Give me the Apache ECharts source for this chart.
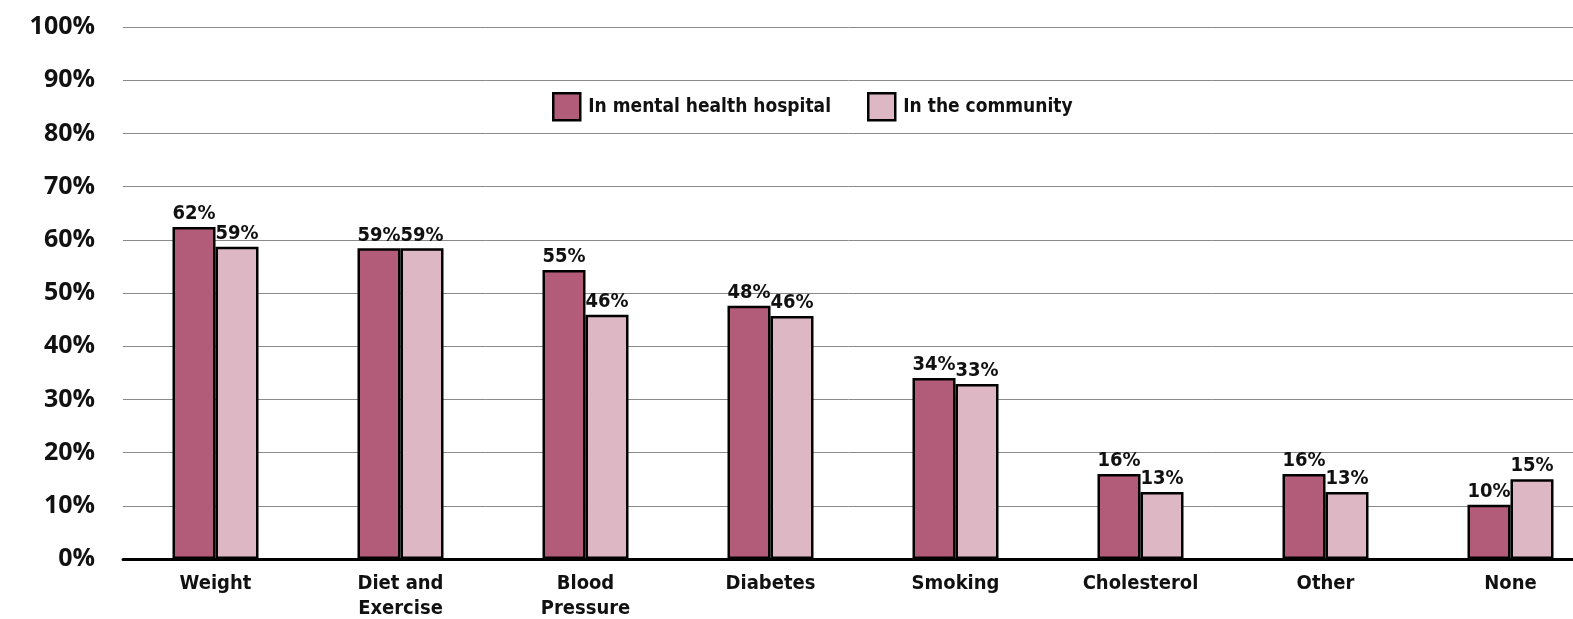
<!DOCTYPE html>
<html>
<head>
<meta charset="utf-8">
<script src="https://cdn.jsdelivr.net/npm/echarts@6/dist/echarts.min.js"></script>
<style>
html,body{margin:0;padding:0;background:#fff;}
#c{width:1573px;height:619px;}
</style>
</head>
<body>
<div id="c"></div>
<script>
var categories = ['Weight', 'Diet and\nExercise', 'Blood\nPressure', 'Diabetes', 'Smoking', 'Cholesterol', 'Other', 'None'];
var hospitalValues = [62.4, 58.4, 54.3, 47.6, 34.0, 16.0, 16.0, 10.2];
var communityValues = [58.7, 58.4, 45.9, 45.7, 32.9, 12.6, 12.6, 15.0];
var hospitalLabels = ['62%', '59%', '55%', '48%', '34%', '16%', '16%', '10%'];
var communityLabels = ['59%', '59%', '46%', '46%', '33%', '13%', '13%', '15%'];
var seriesNames = ['In mental health hospital', 'In the community'];

var condensed = "'Liberation Sans Narrow', 'DejaVu Sans Condensed', 'Roboto Condensed', sans-serif";
var chart = echarts.init(document.getElementById('c'));
function mkSeries(name, vals, labels, color) {
  return {
    name: name,
    type: 'bar',
    data: vals,
    barWidth: 43,
    barGap: '0%',
    itemStyle: {color: color, borderColor: '#000', borderWidth: 2.5},
    label: {
      show: true, position: 'top', distance: 3,
      formatter: function (p) { return labels[p.dataIndex]; },
      color: '#111', fontFamily: condensed, fontWeight: 'bold', fontSize: 20
    }
  };
}
chart.setOption({
  animation: false,
  backgroundColor: '#fff',
  grid: {left: 123, width: 1480, top: 27, bottom: 60, containLabel: false, outerBoundsMode: 'none'},
  legend: {
    data: seriesNames,
    left: 547, top: 87,
    icon: 'rect',
    itemWidth: 27, itemHeight: 27, itemGap: 36,
    textStyle: {fontFamily: condensed, fontWeight: 'bold', fontSize: 19, color: '#111', padding: [0, 0, 0, 3]},
    itemStyle: {borderColor: '#000', borderWidth: 2.5}
  },
  xAxis: {
    type: 'category',
    data: categories,
    axisLine: {lineStyle: {color: '#000', width: 3}},
    axisTick: {show: false},
    axisLabel: {fontFamily: condensed, fontWeight: 'bold', fontSize: 20, color: '#111', lineHeight: 25, margin: 12, interval: 0}
  },
  yAxis: {
    type: 'value', min: 0, max: 100, interval: 10,
    axisLine: {show: false},
    axisTick: {show: false},
    splitLine: {lineStyle: {color: '#8a8a8a', width: 1}},
    axisLabel: {formatter: '{value}%', fontFamily: "'Open Sans', 'Noto Sans', sans-serif", fontWeight: 'bold', fontSize: 25, color: '#111', margin: 28}
  },
  series: [
    mkSeries(seriesNames[0], hospitalValues, hospitalLabels, '#b35c7a'),
    mkSeries(seriesNames[1], communityValues, communityLabels, '#ddb7c4')
  ]
});
</script>
</body>
</html>
